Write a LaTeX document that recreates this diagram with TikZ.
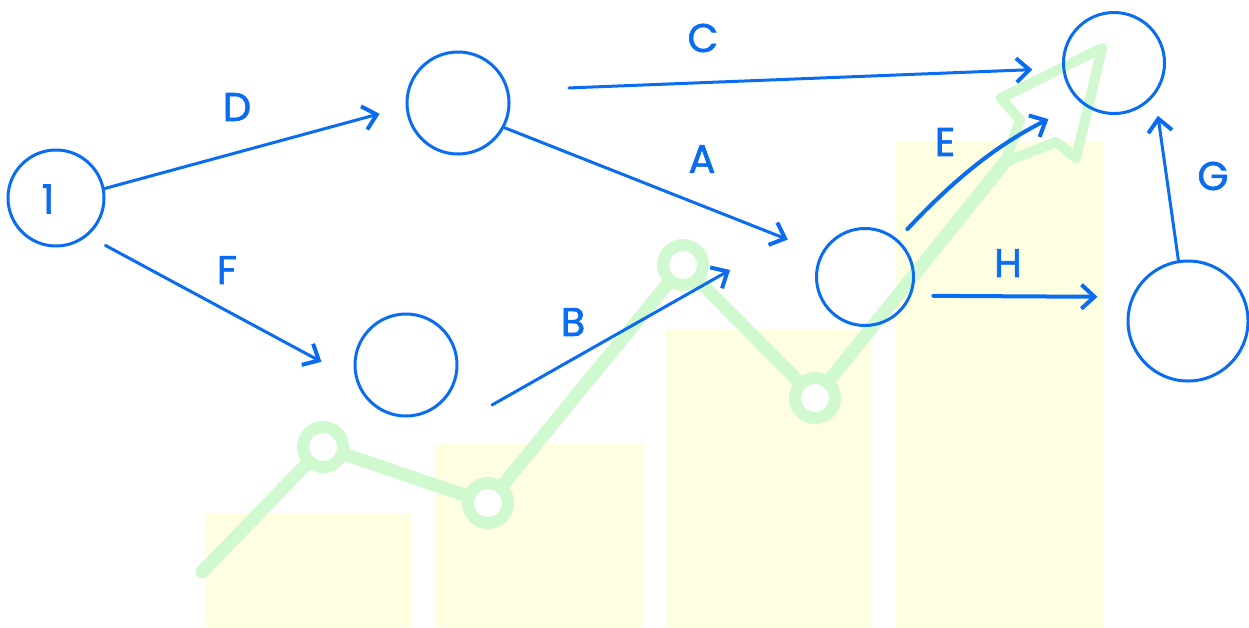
\documentclass[tikz,border=0pt]{standalone}
\usepackage{fontspec}
\setmainfont{Poppins}
\newfontfamily\lblfont{Poppins}[FakeBold=1.6]
\usetikzlibrary{arrows.meta}
\definecolor{nblue}{RGB}{10,108,240}
\definecolor{ngreen}{RGB}{208,249,208}
\definecolor{nyellow}{RGB}{254,255,224}
\begin{document}
\begin{tikzpicture}[x=1pt,y=-1pt,
  nd/.style={circle,draw=nblue,line width=3pt,inner sep=0pt},
  conn/.style={draw=nblue,line width=3pt,line cap=round,-{Straight Barb[length=13pt,width=24pt,line width=4pt]}},
  thickconn/.style={conn,line width=4pt},
  lbl/.style={text=nblue,font=\lblfont\fontsize{40}{44}\selectfont,inner sep=0pt},
  bar/.style={fill=nyellow,draw=none},
  gline/.style={draw=ngreen,line width=13pt,line join=round,line cap=round},
  gtip/.style={draw=ngreen,line width=10pt,line join=round,line cap=round},
  gdot/.style={draw=ngreen,fill=white,line width=12pt}]
\useasboundingbox (0,0) rectangle (1249,627);
\fill[white] (0,0) rectangle (1249,627);
% bars
\fill[bar] (206,513) rectangle (412,627);
\fill[bar] (435,444) rectangle (643,627);
\fill[bar] (666,330) rectangle (872,627);
\fill[bar] (896,142) rectangle (1104,627);
% green trend line
\draw[gline] (202,572) -- (323,447) -- (488,503) -- (683,265) -- (815,398) -- (1005,162);
\draw[gtip] (1005,162) -- (1020,120) -- (1001,98) -- (1102,48) -- (1076,158) -- (1056,142) -- (1005,162);
\draw[gdot] (323,447) circle[radius=20];
\draw[gdot] (488,503) circle[radius=20];
\draw[gdot] (683,265) circle[radius=20];
\draw[gdot] (815,398) circle[radius=20];
% nodes
\node[nd,minimum size=96pt] (n1) at (56,198) {};
\node[lbl] (l1) at (48,199) {1};
\node[nd,minimum size=102pt] (nT) at (458,103) {};
\node[nd,minimum size=102pt] (nB) at (406,365) {};
\node[nd,minimum size=97pt] (nM) at (865,277) {};
\node[nd,minimum size=101pt] (nTR) at (1114,63) {};
\node[nd,minimum size=120pt] (nR) at (1188,321) {};
% connectors
\draw[conn,shorten >=27pt] (n1.11) -- (nT.184);
\draw[conn,shorten <=20pt,shorten >=39pt] (n1.-50) -- (nB.197);
\draw[conn,shorten <=60pt,shorten >=30pt] (nT.14) -- (nTR.186);
\draw[conn,shorten >=36pt] (nT.-28) -- (nM.151);
\coordinate (bS) at (492,405);
\coordinate (bE) at (730,270);
\draw[conn] (bS) -- (bE);
\draw[thickconn,shorten <=14pt,shorten >=36pt] (nM.49) to[bend left=10] (nTR.230);
\draw[thickconn,shorten <=22pt,shorten >=34pt] (nM.-22) -- (nR.157);
\draw[conn,shorten >=21pt] (nR.99) -- (nTR.-38);
% labels
\node[lbl] (lD) at (237,107) {D};
\node[lbl] (lF) at (227,270) {F};
\node[lbl] (lC) at (703,38) {C};
\node[lbl] (lA) at (702,159) {A};
\node[lbl] (lB) at (573,322) {B};
\node[lbl] (lE) at (945,142) {E};
\node[lbl] (lH) at (1008,263) {H};
\node[lbl] (lG) at (1213,176) {G};
\end{tikzpicture}
\end{document}
